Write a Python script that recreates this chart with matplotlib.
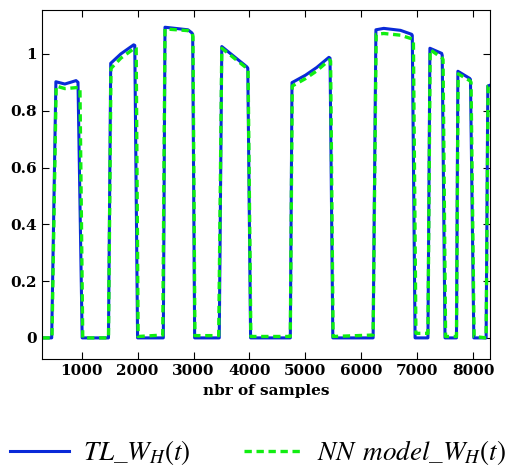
import matplotlib
matplotlib.use('Agg')
import matplotlib.pyplot as plt

# breakpoints (sample index, value)
tl_x = [300, 465, 540, 700, 900, 935, 1010, 1480, 1520, 1700, 1930, 1950, 2000,
        2460, 2490, 2900, 2965, 2985, 3020, 3460, 3505, 3950, 3970, 4020,
        4730, 4760, 5000, 5200, 5420, 5440, 5490, 6210, 6260, 6400, 6700, 6900, 6910, 6960,
        7190, 7225, 7435, 7445, 7495, 7700, 7725, 7935, 7950, 8010, 8230, 8260, 8300]
tl_y = [0, 0, 0.902, 0.894, 0.906, 0.90, 0, 0, 0.967, 1.0, 1.032, 1.03, 0,
        0, 1.094, 1.085, 1.075, 1.07, 0, 0, 1.026, 0.955, 0.95, 0,
        0, 0.899, 0.925, 0.952, 0.988, 0.985, 0, 0, 1.085, 1.09, 1.083, 1.069, 1.065, 0,
        0, 1.02, 1.002, 0.995, 0, 0, 0.939, 0.914, 0.91, 0, 0, 0.887, 0.89]

nn_x = [300, 470, 545, 700, 950, 970, 1020, 1480, 1525, 1700, 1965, 1975, 2010,
        2450, 2490, 2900, 2975, 2990, 3025, 3450, 3505, 3950, 3975, 4025,
        4730, 4765, 5000, 5200, 5430, 5450, 5495, 6210, 6265, 6400, 6700, 6920, 6930, 6975,
        7190, 7230, 7445, 7460, 7505, 7700, 7730, 7945, 7960, 8015, 8230, 8265, 8300]
nn_y = [0, 0, 0.887, 0.878, 0.882, 0.88, 0, 0, 0.949, 0.985, 1.023, 1.02, 0.005,
        0.01, 1.088, 1.082, 1.072, 1.06, 0.008, 0.008, 1.02, 0.95, 0.945, 0.005,
        0.005, 0.887, 0.913, 0.94, 0.979, 0.975, 0.005, 0.01, 1.069, 1.072, 1.066, 1.052, 1.05, 0.016,
        0.016, 1.015, 0.985, 0.98, 0.005, 0.005, 0.93, 0.905, 0.90, 0.005, 0.0, 0.887, 0.89]

xticks = [1000, 2000, 3000, 4000, 5000, 6000, 7000, 8000]
yticks = [0, 0.2, 0.4, 0.6, 0.8, 1]
ytick_labels = ['0', '0.2', '0.4', '0.6', '0.8', '1']

plt.rcParams['font.family'] = 'DejaVu Serif'
plt.rcParams['mathtext.fontset'] = 'stix'

fig = plt.figure(figsize=(5.11, 4.72), dpi=100)
ax = fig.add_axes([0.082, 0.239, 0.877, 0.740])

ax.plot(tl_x, tl_y, color='#0a2ad8', lw=2.2, label=r'$TL\_W_H(t)$')
ax.plot(nn_x, nn_y, color='#11ee11', lw=2.4, linestyle=(0, (2.2, 1.4)),
        label=r'$NN\;\,model\_W_H(t)$')

ax.set_xlim(290, 8300)
ax.set_ylim(-0.075, 1.155)
ax.set_xticks(xticks)
ax.set_xticklabels([str(t) for t in xticks])
ax.set_yticks(yticks)
ax.set_yticklabels(ytick_labels)
ax.tick_params(direction='in', top=True, right=True, labelsize=11, length=5)
for lab in ax.get_xticklabels() + ax.get_yticklabels():
    lab.set_fontweight('bold')
ax.set_xlabel('nbr of samples', fontsize=11, fontweight='bold', labelpad=4)

fig.legend(loc='lower center', bbox_to_anchor=(0.505, -0.042), ncol=2, frameon=False,
           fontsize=19.5, columnspacing=2.0, handlelength=2.2, handletextpad=0.5)

fig.savefig('out.png', dpi=100)
